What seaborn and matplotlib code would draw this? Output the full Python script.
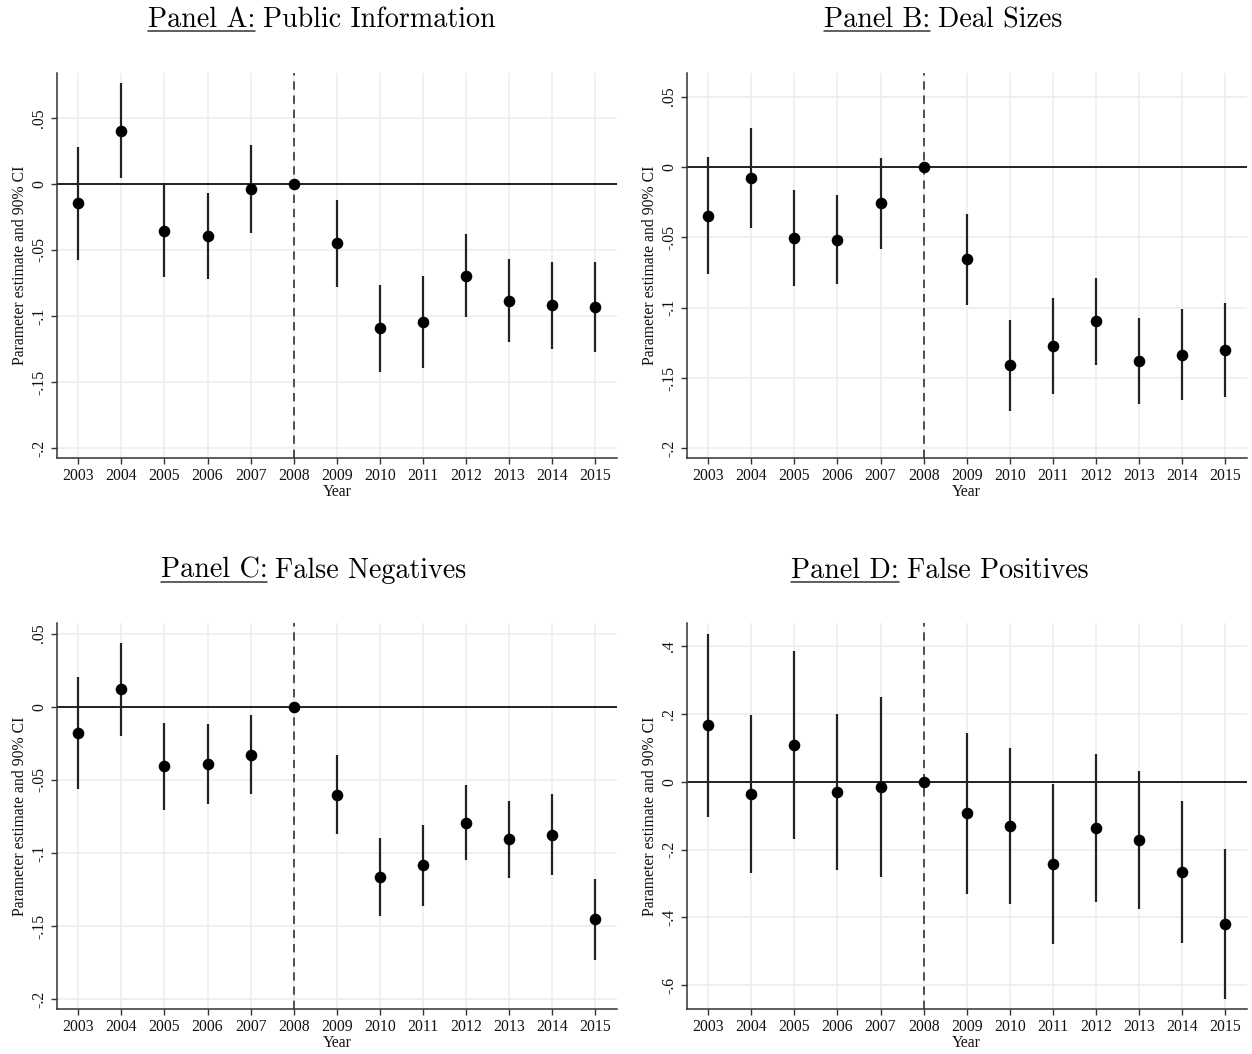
import numpy as np
import pandas as pd
import matplotlib
matplotlib.use("Agg")
import matplotlib.pyplot as plt
from matplotlib.lines import Line2D
from matplotlib.ticker import FuncFormatter
import seaborn as sns

years = [2003, 2004, 2005, 2006, 2007, 2008, 2009, 2010, 2011, 2012, 2013, 2014, 2015]

est_a = [-0.0146, 0.0404, -0.0354, -0.0394, -0.0035, 0.0, -0.0447, -0.1093, -0.1045, -0.0694, -0.0884, -0.0919, -0.0929]
lo_a = [-0.0576, 0.0043, -0.0702, -0.0720, -0.0369, 0.0, -0.0778, -0.1422, -0.1394, -0.1010, -0.1200, -0.1247, -0.1273]
hi_a = [0.0278, 0.0768, 0.0000, -0.0071, 0.0298, 0.0, -0.0121, -0.0768, -0.0697, -0.0379, -0.0571, -0.0588, -0.0588]

est_b = [-0.0346, -0.0081, -0.0505, -0.0517, -0.0258, 0.0, -0.0656, -0.1410, -0.1273, -0.1097, -0.1377, -0.1334, -0.1301]
lo_b = [-0.0761, -0.0431, -0.0844, -0.0834, -0.0585, 0.0, -0.0979, -0.1732, -0.1611, -0.1405, -0.1682, -0.1656, -0.1637]
hi_b = [0.0071, 0.0275, -0.0166, -0.0199, 0.0066, 0.0, -0.0336, -0.1088, -0.0931, -0.0791, -0.1073, -0.1012, -0.0969]

est_c = [-0.0182, 0.0118, -0.0408, -0.0392, -0.0328, 0.0, -0.0601, -0.1162, -0.1084, -0.0793, -0.0907, -0.0877, -0.1453]
lo_c = [-0.0565, -0.0200, -0.0706, -0.0665, -0.0599, 0.0, -0.0872, -0.1431, -0.1360, -0.1050, -0.1169, -0.1153, -0.1729]
hi_c = [0.0200, 0.0435, -0.0109, -0.0118, -0.0059, 0.0, -0.0333, -0.0895, -0.0809, -0.0535, -0.0647, -0.0599, -0.1178]

est_d = [0.167, -0.0354, 0.108, -0.0314, -0.0147, 0.0, -0.0933, -0.1306, -0.2426, -0.1365, -0.1729, -0.2672, -0.4204]
lo_d = [-0.103, -0.268, -0.169, -0.260, -0.280, 0.0, -0.330, -0.361, -0.479, -0.3546, -0.3752, -0.4754, -0.6395]
hi_d = [0.435, 0.196, 0.385, 0.199, 0.250, 0.0, 0.143, 0.100, -0.0059, 0.0815, 0.0305, -0.058, -0.1994]

ticks_small = [-0.2, -0.15, -0.1, -0.05, 0.0, 0.05]
ticks_large = [-0.6, -0.4, -0.2, 0.0, 0.2, 0.4]

panel_prefix = ["Panel A:", "Panel B:", "Panel C:", "Panel D:"]
panel_names = ["Public Information", "Deal Sizes", "False Negatives", "False Positives"]

sns.set_theme(style="white")
plt.rcParams["font.family"] = ["Liberation Serif", "DejaVu Serif"]

W, H = 1252, 1054
fig = plt.figure(figsize=(W / 100, H / 100), dpi=100)
fig.patch.set_facecolor("white")


def fmt(v, pos):
    if abs(v) < 1e-9:
        return "0"
    s = ("%g" % round(v, 4))
    s = s.replace("0.", ".")
    return s


def px_axes(left, right, top, bottom):
    return [left / W, 1 - bottom / H, (right - left) / W, (bottom - top) / H]


panels = [
    dict(est=est_a, lo=lo_a, hi=hi_a, ticks=ticks_small, ylim=(-0.2076, 0.0843),
         box=px_axes(56.7, 617, 72.7, 458), tx=322, base=27),
    dict(est=est_b, lo=lo_b, hi=hi_b, ticks=ticks_small, ylim=(-0.2069, 0.067),
         box=px_axes(686.7, 1246.7, 72.7, 458), tx=943.5, base=27),
    dict(est=est_c, lo=lo_c, hi=hi_c, ticks=ticks_small, ylim=(-0.2066, 0.057),
         box=px_axes(56.7, 617, 623.3, 1009), tx=313.5, base=578),
    dict(est=est_d, lo=lo_d, hi=hi_d, ticks=ticks_large, ylim=(-0.670, 0.4668),
         box=px_axes(686.7, 1246.7, 623.3, 1009), tx=940, base=578),
]

for i, p in enumerate(panels):
    ax = fig.add_axes(p["box"])
    df = pd.DataFrame({"year": years, "est": p["est"], "lo": p["lo"], "hi": p["hi"]})
    ax.set_xlim(2002.5, 2015.5)
    ax.set_ylim(*p["ylim"])
    ax.set_xticks(years)
    ax.set_yticks(p["ticks"])
    ax.yaxis.set_major_formatter(FuncFormatter(fmt))
    ax.grid(True, color="#eeeeee", linewidth=1.2, zorder=0)
    ax.set_axisbelow(True)
    ax.axhline(0, color="#222222", linewidth=1.4, zorder=2)
    ax.axvline(2008, color="#333333", linewidth=1.2, linestyle=(0, (5, 3.5)), zorder=2)
    ax.vlines(df["year"], df["lo"], df["hi"], color="#222222", linewidth=1.6, zorder=3)
    sns.scatterplot(data=df, x="year", y="est", ax=ax, color="black", s=70,
                    edgecolor="black", linewidth=0, zorder=4, legend=False)
    for side in ["top", "right"]:
        ax.spines[side].set_visible(False)
    for side in ["left", "bottom"]:
        ax.spines[side].set_color("#333333")
        ax.spines[side].set_linewidth(1.1)
    ax.tick_params(axis="both", which="major", direction="out", length=4.5, width=1.0,
                   color="#333333", labelsize=11.3, pad=2.5, left=True, bottom=True,
                   labelcolor="#111111")
    for lab in ax.get_yticklabels():
        lab.set_rotation(90)
        lab.set_va("center")
    ax.set_xlabel("Year", fontsize=11.3, labelpad=0, color="#111111")
    ax.set_ylabel("Parameter estimate and 90% CI", fontsize=11.3, labelpad=2, color="#111111")

fig.canvas.draw()
renderer = fig.canvas.get_renderer()

for i, p in enumerate(panels):
    t1 = fig.text(0, 0, panel_prefix[i], fontfamily="cmr10", fontsize=20.2, color="black")
    t2 = fig.text(0, 0, panel_names[i], fontfamily="cmr10", fontsize=20.2, color="black")
    w1 = t1.get_window_extent(renderer).width
    w2 = t2.get_window_extent(renderer).width
    gap = 8.0
    total = w1 + gap + w2
    x0 = p["tx"] - total / 2
    base_y = H - p["base"]
    t1.set_position((x0 / W, base_y / H))
    t1.set_va("baseline")
    t2.set_position(((x0 + w1 + gap) / W, base_y / H))
    t2.set_va("baseline")
    uy = (base_y - 3.8) / H
    fig.add_artist(Line2D([x0 / W, (x0 + w1) / W], [uy, uy], color="#333333",
                          linewidth=1.1, transform=fig.transFigure))

fig.savefig("out.png", dpi=100, facecolor="white")
